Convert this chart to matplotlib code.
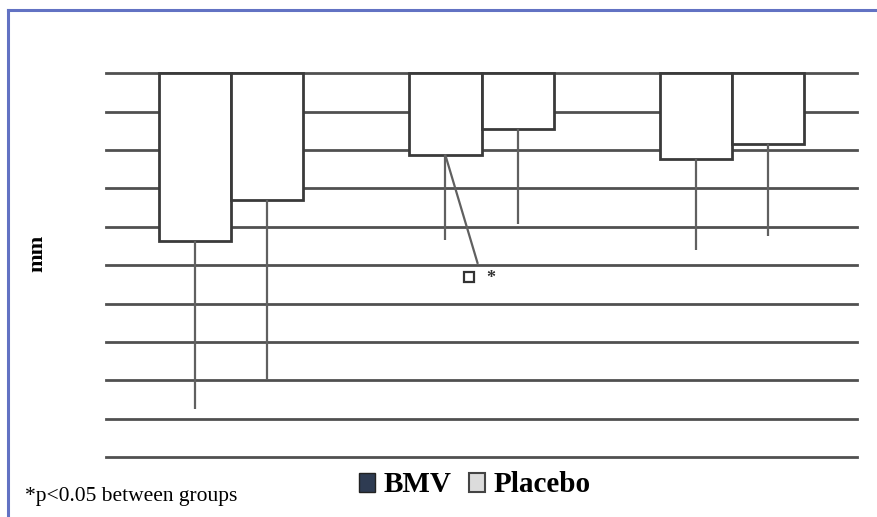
import matplotlib
matplotlib.use("Agg")
import matplotlib.pyplot as plt
from matplotlib.patches import Patch
from matplotlib.lines import Line2D
import numpy as np

# ---- data (grid units, one unit per horizontal line) ----
categories = ["Group 1", "Group 2", "Group 3"]
bmv_values = [-4.36, -2.14, -2.24]
bmv_err_low = [4.40, 2.20, 2.36]
placebo_values = [-3.30, -1.45, -1.85]
placebo_err_low = [4.70, 2.48, 2.38]
series_names = ["BMV", "Placebo"]
y_label = "mm"
footnote = "*p<0.05 between groups"
sig_group = 1

W, H = 877, 517
fig = plt.figure(figsize=(W / 100, H / 100), dpi=100)

grid_col = "#505050"
edge_col = "#3a3a3a"
err_col = "#606060"

ax = fig.add_axes([106 / W, 1 - 462.8 / H, 751 / W, (462.8 - 67.5) / H])
x = np.arange(len(categories))
bw = 0.288

for yv in range(0, -11, -1):
    ax.axhline(yv, color=grid_col, lw=2.0, zorder=1, clip_on=False)

ax.bar(x - bw / 2, bmv_values, bw, color="white", edgecolor=edge_col,
       linewidth=2.0, zorder=3,
       yerr=[bmv_err_low, [0] * 3], ecolor=err_col,
       error_kw=dict(elinewidth=1.6, capsize=0, zorder=4))
ax.bar(x + bw / 2, placebo_values, bw, color="white", edgecolor=edge_col,
       linewidth=2.0, zorder=3,
       yerr=[placebo_err_low, [0] * 3], ecolor=err_col,
       error_kw=dict(elinewidth=1.6, capsize=0, zorder=4))

ax.set_xlim(-0.5, len(categories) - 0.5)
ax.set_ylim(-10.15, 0.15)
ax.set_xticks([])
ax.set_yticks([])
for s in ax.spines.values():
    s.set_visible(False)
ax.patch.set_alpha(0)

# significance callout
sx = x[sig_group] - bw / 2
sy = bmv_values[sig_group]
ax.plot([sx, sx + 0.128], [sy, sy - 2.80], color=err_col, lw=1.6, zorder=4)
ax.plot([sx + 0.096], [sy - 3.18], marker="s", markersize=7.5,
        markerfacecolor="white", markeredgecolor="#333333",
        markeredgewidth=1.6, zorder=5, clip_on=False)
ax.text(sx + 0.18, sy - 3.20, "*", ha="center", va="center",
        fontsize=13, fontweight="bold", color="#333333",
        family="Liberation Serif", zorder=5)

# y label
fig.text(37 / W, 1 - 253 / H, y_label, rotation=90, ha="center", va="center",
         fontsize=16, fontweight="bold", family="Liberation Serif")

# legend
handles = [Patch(facecolor="#2e3b52", edgecolor="#222222", linewidth=1.0),
           Patch(facecolor="#dcdcdc", edgecolor="#444444", linewidth=1.5)]
leg = fig.legend(handles, series_names, loc="center", ncol=2,
                 bbox_to_anchor=(475 / W, 1 - 485 / H), frameon=False,
                 handlelength=0.55, handleheight=0.65, handletextpad=0.3,
                 columnspacing=0.6, borderpad=0,
                 prop=dict(family="Liberation Serif", weight="bold", size=21))

# footnote
fig.text(25 / W, 1 - 497 / H, footnote, ha="left", va="center",
         fontsize=15.5, family="Liberation Serif")

# outer frame (top and left visible)
fig.add_artist(Line2D([8 / W, 1.0], [1 - 10 / H, 1 - 10 / H],
                      color="#6272c3", lw=2.2, transform=fig.transFigure))
fig.add_artist(Line2D([8 / W, 8 / W], [0, 1 - 10 / H],
                      color="#6272c3", lw=2.2, transform=fig.transFigure))

fig.savefig("out.png", dpi=100)
